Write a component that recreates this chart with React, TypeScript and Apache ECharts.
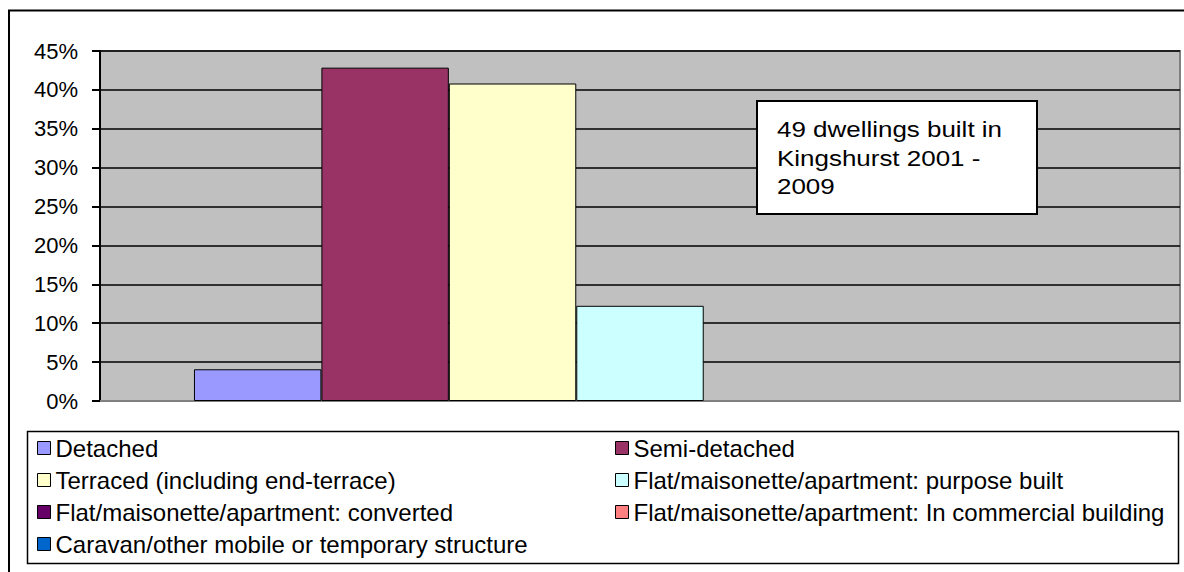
import React, { useEffect, useRef } from "react";
import * as echarts from "echarts";

const seriesNames = [
  "Detached",
  "Semi-detached",
  "Terraced (including end-terrace)",
  "Flat/maisonette/apartment: purpose built",
  "Flat/maisonette/apartment: converted",
  "Flat/maisonette/apartment: In commercial building",
  "Caravan/other mobile or temporary structure",
];
const seriesValues = [0.0408, 0.4286, 0.4082, 0.1224, 0, 0, 0];
const seriesColors = ["#9999FF", "#993366", "#FFFFCC", "#CCFFFF", "#660066", "#FF8080", "#0066CC"];
const yTicks = ["0%", "5%", "10%", "15%", "20%", "25%", "30%", "35%", "40%", "45%"];
const annotationLines = ["49 dwellings built in", "Kingshurst 2001 -", "2009"];

const FONT = "'Liberation Sans', Arial, sans-serif";

export default function App() {
  const ref = useRef<HTMLDivElement>(null);
  useEffect(() => {
    document.body.style.margin = "0";
    if (!ref.current) return;
    const chart = echarts.init(ref.current, undefined, { renderer: "svg" });
    const leftCol = seriesNames.filter((_, i) => i % 2 === 0);
    const rightCol = seriesNames.filter((_, i) => i % 2 === 1);
    const legendCommon = {
      orient: "vertical" as const,
      top: 436,
      padding: 0,
      itemGap: 8,
      itemWidth: 13,
      itemHeight: 13,
      icon: "rect",
      textStyle: { fontFamily: FONT, fontSize: 24, color: "#000" },
      itemStyle: { borderColor: "#000", borderWidth: 1 },
    };
    chart.setOption({
      animation: false,
      backgroundColor: "#fff",
      textStyle: { fontFamily: FONT },
      grid: {
        left: 100,
        top: 51,
        right: 4,
        bottom: 171,
        show: true,
        backgroundColor: "#C0C0C0",
        borderColor: "#808080",
        borderWidth: 2,
      },
      xAxis: {
        type: "category",
        data: [""],
        axisLine: { lineStyle: { color: "#808080", width: 2 } },
        axisTick: { show: false },
        axisLabel: { show: false },
      },
      yAxis: {
        type: "value",
        min: 0,
        max: 0.45,
        interval: 0.05,
        axisLine: { show: true, lineStyle: { color: "#000", width: 2 } },
        axisTick: { show: true, length: 8, lineStyle: { color: "#000", width: 2 } },
        axisLabel: {
          margin: 22,
          color: "#000",
          fontSize: 22,
          fontFamily: FONT,
          formatter: (v: number) => yTicks[Math.round(v / 0.05)] ?? "",
        },
        splitLine: { lineStyle: { color: "#000", width: 1.6 } },
      },
      legend: [
        { ...legendCommon, left: 37, data: leftCol },
        { ...legendCommon, left: 615, data: rightCol },
      ],
      series: seriesNames.map((name, i) => ({
        name,
        type: "bar",
        barGap: "0%",
        barCategoryGap: "17.4%",
        itemStyle: { color: seriesColors[i], borderColor: "#000", borderWidth: 1 },
        data: [
          {
            value: seriesValues[i],
            itemStyle: seriesValues[i] === 0 ? { borderWidth: 0 } : undefined,
          },
        ],
      })),
      graphic: [
        {
          type: "rect",
          shape: { x: 9, y: 10.5, width: 1200, height: 600 },
          style: { fill: "none", stroke: "#000", lineWidth: 2 },
          silent: true,
        },
        {
          type: "rect",
          shape: { x: 27.5, y: 431.5, width: 1151, height: 132 },
          style: { fill: "none", stroke: "#000", lineWidth: 1.5 },
          silent: true,
        },
        {
          type: "rect",
          shape: { x: 757, y: 101, width: 280, height: 113 },
          style: { fill: "#fff", stroke: "#000", lineWidth: 2 },
          z: 100,
        },
        {
          type: "text",
          x: 777,
          y: 115,
          scaleX: 1.18,
          z: 101,
          style: {
            text: annotationLines.join("\n"),
            font: `22px ${FONT}`,
            fill: "#000",
            lineHeight: 28.5,
          },
        },
      ],
    });
    return () => chart.dispose();
  }, []);
  return <div ref={ref} style={{ width: 1184, height: 572 }} />;
}
